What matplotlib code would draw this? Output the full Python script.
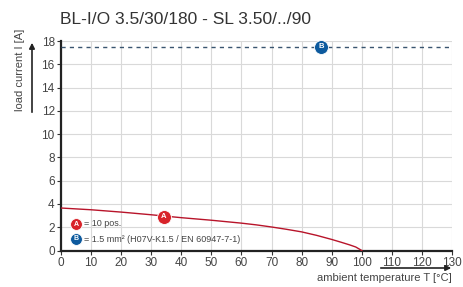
import matplotlib
matplotlib.use("Agg")
import matplotlib.pyplot as plt
from matplotlib.patches import FancyArrowPatch

plt.rcParams["font.family"] = ["Liberation Sans", "DejaVu Sans"]

# data
temp_A = [0, 10, 20, 30, 40, 50, 60, 65, 70, 75, 80, 85, 90, 93, 96, 98, 100]
curr_A = [3.65, 3.5, 3.3, 3.07, 2.82, 2.6, 2.35, 2.2, 2.02, 1.82, 1.6, 1.3, 0.95, 0.72, 0.48, 0.3, 0.0]
current_B = 17.5
marker_A = (34.2, 2.9)
marker_B = (86.5, 17.5)
xticks = list(range(0, 131, 10))
yticks = list(range(0, 19, 2))
title = "BL-I/O 3.5/30/180 - SL 3.50/../90"
legend_A = "= 10 pos."
legend_B = "= 1.5 mm² (H07V-K1.5 / EN 60947-7-1)"

RED = "#d8232a"
BLUE = "#0d5a9e"
TXT = "#444444"

fig = plt.figure(figsize=(4.63, 2.87), dpi=100)
W, H = 463, 287
ax = fig.add_axes([61 / W, 36.5 / H, 391 / W, 209.5 / H])
ax.set_xlim(0, 130)
ax.set_ylim(0, 18)
ax.set_xticks(xticks)
ax.set_yticks(yticks)
ax.tick_params(axis="both", labelsize=8.5, length=3, width=0.8, pad=1.5, colors="#333333")
for lab in ax.get_xticklabels() + ax.get_yticklabels():
    lab.set_color(TXT)
ax.grid(True, color="#d9d9d9", linewidth=0.8)
ax.set_axisbelow(True)
for s in ["top", "right"]:
    ax.spines[s].set_visible(False)
for s in ["left", "bottom"]:
    ax.spines[s].set_linewidth(1.6)
    ax.spines[s].set_color("#222222")
    ax.spines[s].set_clip_on(False)

ax.plot(temp_A, curr_A, color="#b8142a", linewidth=1.0, zorder=3)
ax.axhline(current_B, color="#3a5570", linewidth=1.0, linestyle=(0, (3, 3)), zorder=3)


def badge(x, y, letter, color, size, fs, coords=None):
    kw = {}
    if coords is not None:
        kw["transform"] = coords
    ax.plot([x], [y], marker="o", markersize=size, color=color,
            markeredgecolor="white", markeredgewidth=0.6, zorder=5, clip_on=False, **kw)
    ax.text(x, y, letter, color="white", fontsize=fs, fontweight="bold",
            ha="center", va="center", zorder=6, **kw)


badge(marker_A[0], marker_A[1], "A", RED, 10, 5.5)
badge(marker_B[0], marker_B[1], "B", BLUE, 10, 5.5)

# legend
tr = ax.transAxes
def px(xp, yp):
    return ((xp - 61) / 391, (250.5 - yp) / 209.5)

ax_ = px(76, 224)
bx_ = px(76, 239)
badge(ax_[0], ax_[1], "A", RED, 8.5, 5, coords=tr)
badge(bx_[0], bx_[1], "B", BLUE, 8.5, 5, coords=tr)
ax.text(px(84, 224)[0], ax_[1], legend_A, transform=tr, fontsize=6.5, color=TXT,
        va="center", ha="left", zorder=6)
ax.text(px(84, 239)[0], bx_[1], legend_B, transform=tr, fontsize=6.5, color=TXT,
        va="center", ha="left", zorder=6)

# title
fig.text(186 / W, 1 - 20 / H, title, fontsize=12.5, color="#333333", ha="center", va="center")

# y label with arrow
fig.text(20 / W, 1 - 70 / H, "load current I [A]", rotation=90, fontsize=8,
         color=TXT, ha="center", va="center")
fig.add_artist(FancyArrowPatch((32 / W, 1 - 115 / H), (32 / W, 1 - 40 / H),
                               transform=fig.transFigure, arrowstyle="-|>",
                               mutation_scale=8, color="#222222", linewidth=1.2))

# x label with arrow
fig.text(452 / W, 1 - 278 / H, "ambient temperature T [°C]", fontsize=8,
         color=TXT, ha="right", va="center")
fig.add_artist(FancyArrowPatch((378 / W, 1 - 268 / H), (454 / W, 1 - 268 / H),
                               transform=fig.transFigure, arrowstyle="-|>",
                               mutation_scale=8, color="#222222", linewidth=1.2))

fig.savefig("out.png", dpi=100)
